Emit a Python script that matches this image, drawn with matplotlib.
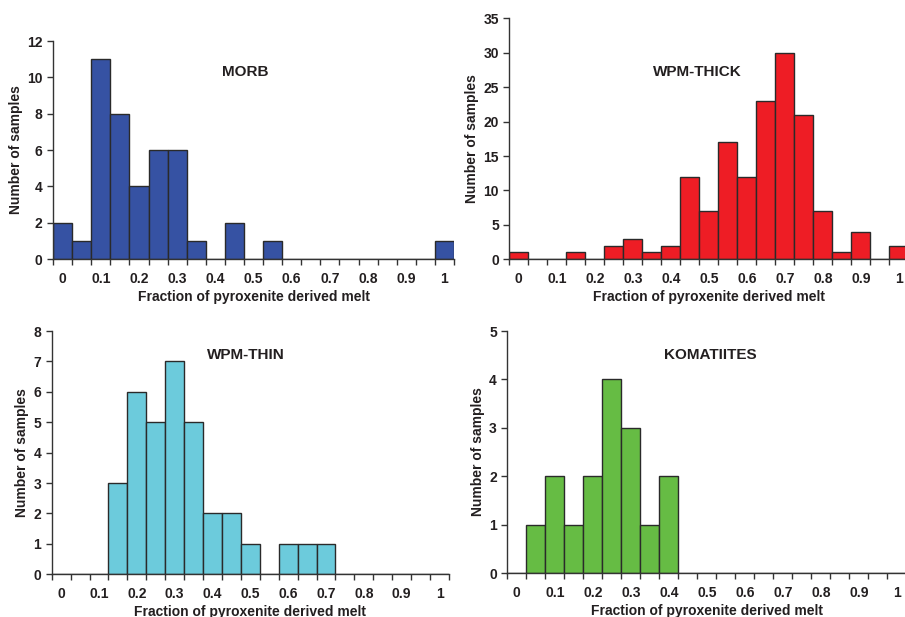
import numpy as np
import matplotlib
matplotlib.use("Agg")
import matplotlib.pyplot as plt

plt.rcParams['font.family'] = ['Liberation Sans', 'DejaVu Sans']
plt.rcParams['font.weight'] = 'bold'

# bin categories 0, 0.05, ..., 1 (Excel-style category axis)
categories = ["0", "0.05", "0.1", "0.15", "0.2", "0.25", "0.3", "0.35", "0.4", "0.45", "0.5",
              "0.55", "0.6", "0.65", "0.7", "0.75", "0.8", "0.85", "0.9", "0.95", "1"]

morb = [2, 1, 11, 8, 4, 6, 6, 1, 0, 2, 0, 1, 0, 0, 0, 0, 0, 0, 0, 0, 1]
wpm_thick = [1, 0, 0, 1, 0, 2, 3, 1, 2, 12, 7, 17, 12, 23, 30, 21, 7, 1, 4, 0, 2]
wpm_thin = [0, 0, 0, 3, 6, 5, 7, 5, 2, 2, 1, 0, 1, 1, 1, 0, 0, 0, 0, 0, 0]
komatiites = [0, 1, 2, 1, 2, 4, 3, 1, 2, 0, 0, 0, 0, 0, 0, 0, 0, 0, 0, 0, 0]

txt = "#231f20"

panels = [
    # values, title, color, ymax, ystep, axes rect, title pos (axes fraction)
    (morb, "MORB", "#3652a3", 12, 2, [0.0586, 0.5802, 0.4431, 0.3533], (0.48, 0.86)),
    (wpm_thick, "WPM-THICK", "#ee1d25", 35, 5, [0.5628, 0.5797, 0.4409, 0.3906], (0.472, 0.777)),
    (wpm_thin, "WPM-THIN", "#6ccbdc", 8, 1, [0.0571, 0.0692, 0.4390, 0.3943], (0.49, 0.90)),
    (komatiites, "KOMATIITES", "#66bc44", 5, 1, [0.5606, 0.0713, 0.4409, 0.3922], (0.508, 0.90)),
]

fig = plt.figure(figsize=(9.05, 6.17), dpi=100)

for vals, title, color, ymax, ystep, rect, tpos in panels:
    ax = fig.add_axes(rect)
    x = np.arange(len(categories))
    ax.bar(x, vals, width=1.0, color=color, edgecolor="#2a2a2a", linewidth=1.0)
    ax.set_xlim(-0.5, len(categories) - 0.5)
    ax.set_ylim(0, ymax)
    ax.set_yticks(np.arange(0, ymax + 0.1, ystep))
    # tick marks at bin edges, labels at every other bin center
    ax.set_xticks(np.arange(-0.5, len(categories), 1.0))
    ax.set_xticklabels([])
    ax.set_xticks(x[::2], minor=True)
    ax.set_xticklabels(categories[::2], minor=True)
    ax.tick_params(axis="x", which="major", direction="out", length=4, width=1, color="#333333")
    ax.tick_params(axis="x", which="minor", length=0, pad=9, labelsize=10, labelcolor=txt)
    ax.tick_params(axis="y", direction="out", length=4, width=1, color="#333333",
                   labelsize=10, labelcolor=txt)
    for s in ["top", "right"]:
        ax.spines[s].set_visible(False)
    for s in ["left", "bottom"]:
        ax.spines[s].set_color("#333333")
        ax.spines[s].set_linewidth(1.0)
    ax.set_xlabel("Fraction of pyroxenite derived melt", fontsize=10, fontweight="bold",
                  color=txt, labelpad=3)
    ax.set_ylabel("Number of samples", fontsize=10, fontweight="bold", color=txt, labelpad=3)
    ax.text(tpos[0], tpos[1], title, transform=ax.transAxes, ha="center", va="center",
            fontsize=11, fontweight="bold", color=txt)

fig.savefig("out.png", dpi=100)
